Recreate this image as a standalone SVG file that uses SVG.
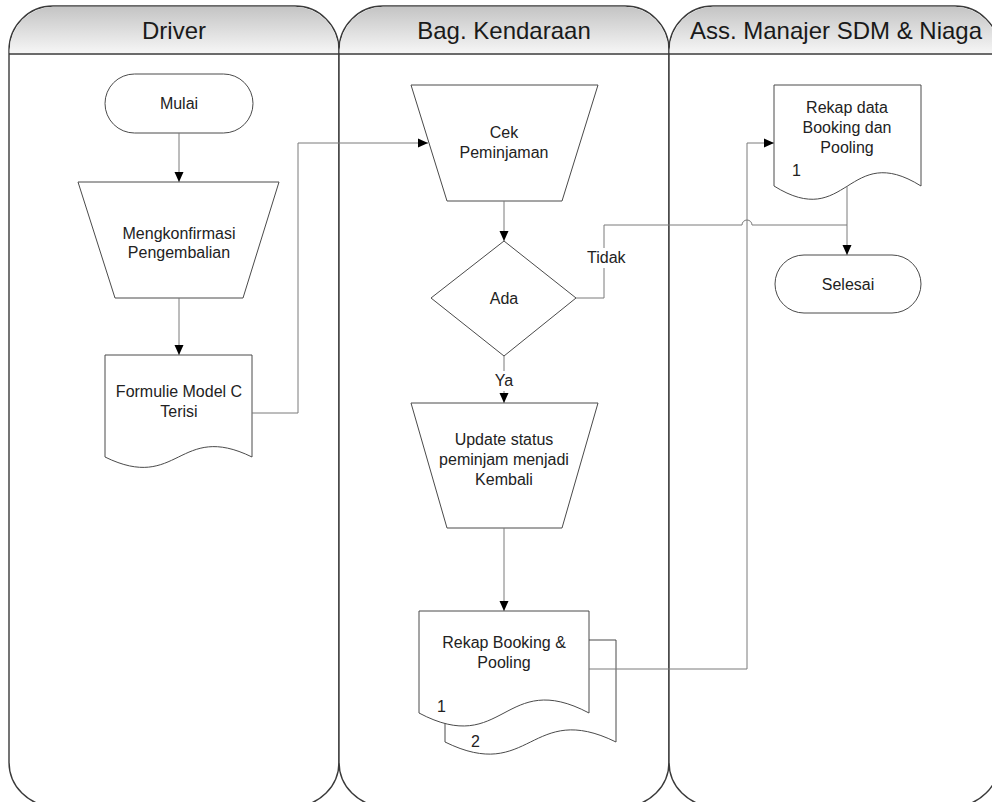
<svg xmlns="http://www.w3.org/2000/svg" width="992" height="802" viewBox="0 0 992 802">
  <defs>
    <linearGradient id="hdr" x1="0" y1="0" x2="0" y2="1">
      <stop offset="0" stop-color="#c4c4c4"/>
      <stop offset="1" stop-color="#f6f6f6"/>
    </linearGradient>
    <marker id="arr" markerUnits="userSpaceOnUse" markerWidth="10" markerHeight="10" viewBox="0 0 10 10" refX="10" refY="5" orient="auto">
      <path d="M0,0.5 L10,5 L0,9.5 Z" fill="#000"/>
    </marker>
  </defs>
  <style>
    .lane { fill: #fff; stroke: #3a3a3a; stroke-width: 1.4; }
    .hdr { fill: url(#hdr); stroke: none; }
    .hline { stroke: #3a3a3a; stroke-width: 1.4; fill: none; }
    .ttl { font-family: "Liberation Sans", Arial, sans-serif; font-size: 24px; fill: #1a1a1a; text-anchor: middle; }
    .shape { fill: #fff; stroke: #4a4a4a; stroke-width: 1; }
    .txt { font-family: "Liberation Sans", Arial, sans-serif; font-size: 16px; fill: #222; text-anchor: middle; }
    .num { font-family: "Liberation Sans", Arial, sans-serif; font-size: 16px; fill: #222; }
    .con { fill: none; stroke: #7a7a7a; stroke-width: 1; }
    .arw { marker-end: url(#arr); }
  </style>

  <!-- swimlanes -->
  <g id="lane-driver">
    <rect class="lane" x="9" y="6" width="330" height="800" rx="44" ry="44"/>
    <path class="hdr" d="M9.7,53.3 V50 A44,44 0 0 1 53,6.7 H295 A44,44 0 0 1 338.3,50 V53.3 Z"/>
    <line class="hline" x1="9" y1="54" x2="339" y2="54"/>
    <text class="ttl" x="174" y="39">Driver</text>
  </g>
  <g id="lane-kendaraan">
    <rect class="lane" x="339" y="6" width="330" height="800" rx="44" ry="44"/>
    <path class="hdr" d="M339.7,53.3 V50 A44,44 0 0 1 383,6.7 H625 A44,44 0 0 1 668.3,50 V53.3 Z"/>
    <line class="hline" x1="339" y1="54" x2="669" y2="54"/>
    <text class="ttl" x="504" y="39">Bag. Kendaraan</text>
  </g>
  <g id="lane-manajer">
    <rect class="lane" x="669" y="6" width="330" height="800" rx="44" ry="44"/>
    <path class="hdr" d="M669.7,53.3 V50 A44,44 0 0 1 713,6.7 H955 A44,44 0 0 1 998.3,50 V53.3 Z"/>
    <line class="hline" x1="669" y1="54" x2="999" y2="54"/>
    <text class="ttl" x="836" y="39">Ass. Manajer SDM &amp; Niaga</text>
  </g>

  <!-- Driver lane nodes -->
  <g id="mulai">
    <rect class="shape" x="105" y="74" width="148" height="59" rx="29.5"/>
    <text class="txt" x="179" y="109">Mulai</text>
  </g>
  <g id="mengkonfirmasi">
    <path class="shape" d="M78,182 H279 L243,298 H115 Z"/>
    <text class="txt" x="179" y="239">Mengkonfirmasi</text>
    <text class="txt" x="179" y="258">Pengembalian</text>
  </g>
  <g id="formulie">
    <path class="shape" d="M105,355 H252 V457 C178.5,421 178.5,493 105,457 Z"/>
    <text class="txt" x="179" y="397">Formulie Model C</text>
    <text class="txt" x="179" y="417">Terisi</text>
  </g>

  <!-- Bag. Kendaraan lane nodes -->
  <g id="cek-peminjaman">
    <path class="shape" d="M411,85 H598 L562,201 H447 Z"/>
    <text class="txt" x="504" y="138">Cek</text>
    <text class="txt" x="504" y="158">Peminjaman</text>
  </g>
  <g id="ada">
    <path class="shape" d="M504,241 L576,298 L504,356 L431,298 Z"/>
    <text class="txt" x="504" y="304">Ada</text>
  </g>
  <g id="update-status">
    <path class="shape" d="M411,403 H598 L562,528 H447 Z"/>
    <text class="txt" x="504" y="445">Update status</text>
    <text class="txt" x="504" y="465">peminjam menjadi</text>
    <text class="txt" x="504" y="485">Kembali</text>
  </g>
  <g id="rekap-booking">
    <!-- second copy behind the first -->
    <path class="shape" d="M445,640 H616 V742 C530.5,700 530.5,784 445,742 Z"/>
    <path class="shape" d="M419,611 H589 V713 C504,668 504,758 419,713 Z"/>
    <text class="txt" x="504" y="648">Rekap Booking &amp;</text>
    <text class="txt" x="504" y="668">Pooling</text>
    <text class="num" x="437" y="712">1</text>
    <text class="num" x="471" y="747">2</text>
  </g>

  <!-- Ass. Manajer lane nodes -->
  <g id="rekap-data">
    <path class="shape" d="M774,85 H921 V186 C847.5,140 847.5,232 774,186 Z"/>
    <text class="txt" x="847" y="113">Rekap data</text>
    <text class="txt" x="847" y="133">Booking dan</text>
    <text class="txt" x="847" y="153">Pooling</text>
    <text class="num" x="792" y="176">1</text>
  </g>
  <g id="selesai">
    <rect class="shape" x="775" y="255" width="146" height="58" rx="29"/>
    <text class="txt" x="848" y="290">Selesai</text>
  </g>

  <!-- connectors -->
  <g id="connectors">
    <path class="con arw" d="M179,133 V182"/>
    <path class="con arw" d="M179,298 V355"/>
    <path class="con arw" d="M252,413 H298 V143 H428"/>
    <path class="con arw" d="M504,201 V241"/>
    <path class="con arw" d="M504,356 V403"/>
    <path class="con" d="M576,298 H604 V225 H742 A5,5 0 0 1 752,225 H847"/>
    <path class="con arw" d="M504,528 V611"/>
    <path class="con arw" d="M589,669 H747 V143 H774"/>
    <path class="con arw" d="M847,186 V255"/>
    <rect x="585" y="248" width="40" height="20" fill="#fff"/>
    <text class="num" x="587" y="263">Tidak</text>
    <rect x="492" y="371" width="24" height="20" fill="#fff"/>
    <text class="txt" x="504" y="386">Ya</text>
  </g>
</svg>
